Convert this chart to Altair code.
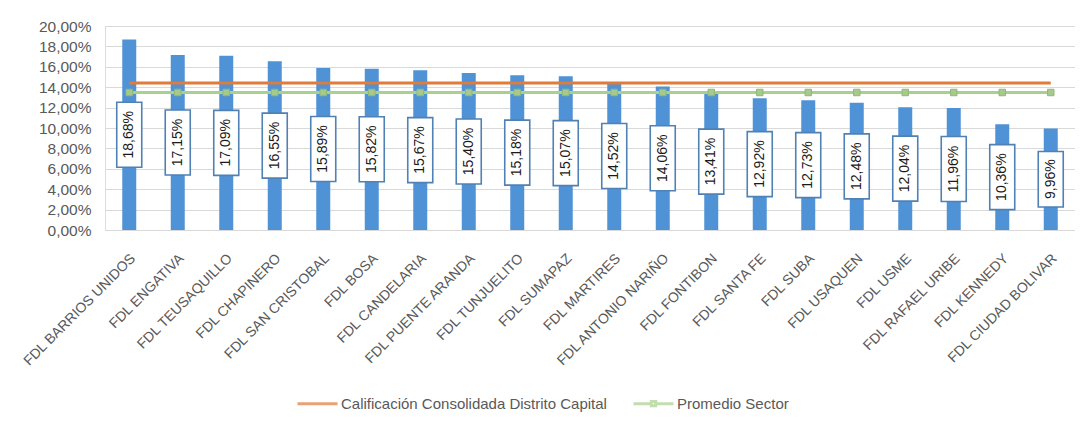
import altair as alt
import pandas as pd

categorias = ["FDL BARRIOS UNIDOS", "FDL ENGATIVA", "FDL TEUSAQUILLO", "FDL CHAPINERO",
              "FDL SAN CRISTOBAL", "FDL BOSA", "FDL CANDELARIA", "FDL PUENTE ARANDA",
              "FDL TUNJUELITO", "FDL SUMAPAZ", "FDL MARTIRES", "FDL ANTONIO NARIÑO",
              "FDL FONTIBON", "FDL SANTA FE", "FDL SUBA", "FDL USAQUEN", "FDL USME",
              "FDL RAFAEL URIBE", "FDL KENNEDY", "FDL CIUDAD BOLIVAR"]
valores = [18.68, 17.15, 17.09, 16.55, 15.89, 15.82, 15.67, 15.40, 15.18, 15.07,
           14.52, 14.06, 13.41, 12.92, 12.73, 12.48, 12.04, 11.96, 10.36, 9.96]
calificacion_distrito = 14.42
promedio_sector = 13.48
series = ["Calificación Consolidada Distrito Capital", "Promedio Sector"]
y_ticks = [0, 2, 4, 6, 8, 10, 12, 14, 16, 18, 20]

FONT = "Liberation Sans"
BLUE = "#4f92d6"
ORANGE = "#e07b39"
GREEN = "#a9d18e"
GREY = "#595959"

df = pd.DataFrame({
    "cat": categorias,
    "valor": valores,
    "label": [f"{v:.2f}".replace(".", ",") + "%" for v in valores],
    "dist": [calificacion_distrito] * len(categorias),
    "prom": [promedio_sector] * len(categorias),
})

PX_PER_UNIT = 204 / 20.0

x_enc = alt.X("cat:N", scale=alt.Scale(domain=categorias),
              axis=alt.Axis(title=None, labelAngle=-45, labelFontSize=14, labelColor=GREY,
                            labelFont=FONT, ticks=False, domainColor="#d9d9d9",
                            labelPadding=21, labelOffset=-1, labelLimit=300, grid=False))
y_scale = alt.Scale(domain=[0, 20])
y_axis = alt.Axis(title=None, values=y_ticks, tickCount=11, ticks=False, domain=False,
                  gridColor="#d9d9d9", labelFontSize=15.5, labelColor=GREY,
                  labelFont=FONT, labelPadding=14, labelOverlap=False,
                  labelExpr="replace(format(datum.value, '.2f'), '.', ',') + '%'")


def yq(field):
    return alt.Y(field, scale=y_scale, axis=y_axis)


base = alt.Chart(df)

bars = base.mark_bar(size=14, color=BLUE).encode(x=x_enc, y=yq("valor:Q"))

orange_line = base.mark_line(color=ORANGE, strokeWidth=3).encode(x=x_enc, y=yq("dist:Q"))
green_line = base.mark_line(color=GREEN, strokeWidth=3).encode(x=x_enc, y=yq("prom:Q"))
green_pts = base.mark_point(shape="square", filled=True, size=42, color="#a6ca8c",
                            stroke="#92b879", strokeWidth=1, opacity=1).encode(
    x=x_enc, y=yq("prom:Q"))

boxes = base.transform_calculate(
    half="(9.5 * length(datum.label) + 8) / 2 / %f" % PX_PER_UNIT
).transform_calculate(
    lo="datum.valor / 2 - datum.half",
    hi="datum.valor / 2 + datum.half",
).mark_bar(size=25, fill="white", stroke="#4f81b5", strokeWidth=1.6).encode(
    x=x_enc, y=yq("lo:Q"), y2="hi:Q")

texts = base.transform_calculate(mid="datum.valor / 2").mark_text(
    angle=270, fontSize=14, font=FONT, color="#1a1a1a", align="center", baseline="middle"
).encode(x=x_enc, y=yq("mid:Q"), text="label:N")

path_line = "M-1,0H1"
path_sq = "M-1,0H-0.11M0.11,0H1M-0.11,-0.11H0.11V0.11H-0.11Z"
leg = alt.Legend(title=None, orient="none", legendX=191, legendY=356, direction="horizontal",
                 symbolSize=1600, symbolStrokeWidth=3, labelFontSize=15, labelFont=FONT,
                 labelColor=GREY, columnPadding=20, labelOffset=2, padding=0, labelLimit=400)
legend_layer = alt.Chart(pd.DataFrame({"serie": series})).transform_filter("false").mark_point(
    filled=False, strokeWidth=3).encode(
    color=alt.Color("serie:N", scale=alt.Scale(domain=series, range=[ORANGE, GREEN]), legend=leg),
    shape=alt.Shape("serie:N", scale=alt.Scale(domain=series, range=[path_line, path_sq]), legend=leg),
)

chart = alt.layer(bars, orange_line, green_line, green_pts, boxes, texts, legend_layer).properties(
    width=970, height=204,
    autosize=alt.AutoSizeParams(type="none"),
    padding={"left": 97, "top": 18, "right": 0, "bottom": 190},
).configure_view(stroke=None).configure(background="white")

chart.save("out.html", embed_options={"renderer": "svg", "actions": False})
